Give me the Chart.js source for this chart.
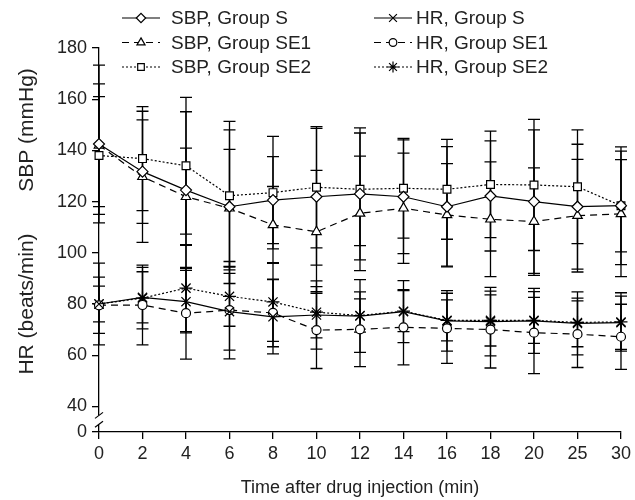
<!DOCTYPE html>
<html><head><meta charset="utf-8">
<script src="https://cdn.jsdelivr.net/npm/chart.js@4.4.1/dist/chart.umd.min.js"></script>
<style>html,body{margin:0;padding:0;background:#fff}#wrap{width:635px;height:500px;position:relative}</style>
</head><body><div id="wrap"><canvas id="c" width="635" height="500"></canvas></div>
<script>
const categories = ['0','2','4','6','8','10','12','14','16','18','20','25','30'];
const yTickValues = [30,40,60,80,100,120,140,160,180];
const yTickLabels = ['0','40','60','80','100','120','140','160','180'];

const sbpS   = [142.5,131.7,124.5,118.0,120.6,121.9,123.0,121.9,118.0,122.2,120.0,118.0,118.4];
const sbpSE1 = [142.0,129.7,121.9,117.4,110.9,108.2,115.4,117.4,114.8,113.1,112.2,114.5,115.2];
const sbpSE2 = [138.0,136.8,134.0,122.3,123.5,125.6,124.8,125.2,124.8,126.7,126.5,125.8,118.4];
const hrS    = [80.0,82.6,80.9,77.0,75.0,75.7,75.3,77.0,73.4,73.1,73.4,72.4,72.7];
const hrSE1  = [79.5,79.6,76.4,77.6,76.5,69.8,70.1,70.9,70.5,70.0,68.8,68.2,67.2];
const hrSE2  = [80.0,82.3,86.2,83.0,80.8,76.8,75.5,77.2,73.6,73.6,73.6,72.8,73.0];

const sbpS_sd   = [30.8,20.2,30.6,30.0,17.0,26.7,25.8,22.2,23.5,21.5,28.0,24.4,23.0];
const sbpSE1_sd = [24.0,25.6,19.0,23.0,15.0,24.0,22.4,21.5,20.0,22.4,21.0,22.0,24.5];
const sbpSE2_sd = [23.0,20.3,26.7,29.0,22.0,23.7,22.0,19.5,19.5,20.8,25.6,22.2,18.0];
const hrS_sd    = [16.0,10.0,12.2,15.0,14.5,13.3,14.2,12.1,11.8,13.4,12.7,12.3,10.4];
const hrSE1_sd  = [11.0,15.6,17.9,19.0,13.2,15.0,14.6,14.7,13.7,15.0,16.0,13.0,12.7];
const hrSE2_sd  = [7.0,12.0,17.0,11.7,15.4,10.0,6.5,8.0,8.0,10.0,9.0,9.5,11.4];

const seriesNames = ['SBP, Group S','SBP, Group SE1','SBP, Group SE2','HR, Group S','HR, Group SE1','HR, Group SE2'];

const FONT = '"Liberation Sans", Arial, sans-serif';
const TXT = '#222';

function ds(label, data, sd, style, radius, dash){
  return {label, data, sd, borderColor:'#000', borderWidth:1.2, borderDash:dash,
    pointStyle:style, pointRadius:radius, pointHoverRadius:radius,
    pointBackgroundColor:'#fff', pointBorderColor:'#000', pointBorderWidth:1.2,
    fill:false, tension:0};
}
const DASH=[7,5], DOT=[2,2];
const datasets = [
  ds(seriesNames[0], sbpS, sbpS_sd, 'rectRot', 5.5, []),
  ds(seriesNames[1], sbpSE1, sbpSE1_sd, 'triangle', 5.5, DASH),
  ds(seriesNames[2], sbpSE2, sbpSE2_sd, 'rect', 5.5, DOT),
  ds(seriesNames[3], hrS, hrS_sd, 'crossRot', 6.5, []),
  ds(seriesNames[4], hrSE1, hrSE1_sd, 'circle', 4.5, DASH),
  ds(seriesNames[5], hrSE2, hrSE2_sd, 'star', 6.5, DOT)
];

const errorBars = {
  id:'errorBars',
  beforeDatasetsDraw(chart){
    const ctx=chart.ctx, y=chart.scales.y;
    ctx.save(); ctx.strokeStyle='#000'; ctx.lineWidth=1.3; ctx.setLineDash([]);
    chart.data.datasets.forEach((d,di)=>{
      const meta=chart.getDatasetMeta(di);
      d.sd.forEach((s,i)=>{
        const x=meta.data[i].x, m=d.data[i];
        const yt=y.getPixelForValue(m+s), yb=y.getPixelForValue(m-s);
        ctx.beginPath();
        ctx.moveTo(x,yt); ctx.lineTo(x,yb);
        ctx.moveTo(x-6,yt); ctx.lineTo(x+6,yt);
        ctx.moveTo(x-6,yb); ctx.lineTo(x+6,yb);
        ctx.stroke();
      });
    });
    ctx.restore();
  }
};

const decor = {
  id:'decor',
  afterDraw(chart){
    const ctx=chart.ctx, y=chart.scales.y;
    const ax=chart.chartArea.left;
    ctx.save();
    // axis break
    const yA=y.getPixelForValue(36.5), yB=y.getPixelForValue(33.0);
    ctx.fillStyle='#fff'; ctx.fillRect(ax-2, yA, 4, yB-yA);
    ctx.strokeStyle='#000'; ctx.lineWidth=1.2;
    [yA,yB].forEach(yy=>{ctx.beginPath();ctx.moveTo(ax-4,yy+3);ctx.lineTo(ax+4,yy-3);ctx.stroke();});
    // titles
    ctx.fillStyle=TXT; ctx.textBaseline='middle'; ctx.textAlign='center';
    ctx.font='18px '+FONT;
    ctx.fillText('Time after drug injection (min)', (chart.chartArea.left+chart.chartArea.right)/2, 488);
    ctx.font='21px '+FONT;
    ctx.save(); ctx.translate(27,130); ctx.rotate(-Math.PI/2); ctx.fillText('SBP (mmHg)',0,0); ctx.restore();
    ctx.save(); ctx.translate(27,304); ctx.rotate(-Math.PI/2); ctx.fillText('HR (beats/min)',0,0); ctx.restore();
    // legend
    const cols=[{x0:122,x1:160,tx:171},{x0:374,x1:412,tx:416}];
    const rows=[18,42.5,67];
    chart.data.datasets.forEach((d,i)=>{
      const c=cols[Math.floor(i/3)], r=rows[i%3];
      ctx.save();
      ctx.strokeStyle='#000'; ctx.lineWidth=1.2; ctx.setLineDash(d.borderDash);
      ctx.beginPath(); ctx.moveTo(c.x0,r); ctx.lineTo(c.x1,r); ctx.stroke();
      ctx.setLineDash([]);
      ctx.fillStyle='#fff';
      Chart.helpers.drawPoint(ctx,{pointStyle:d.pointStyle,radius:d.pointRadius*0.85,borderWidth:1.2,rotation:0},(c.x0+c.x1)/2,r);
      ctx.restore();
      ctx.fillStyle=TXT; ctx.textAlign='left'; ctx.textBaseline='middle'; ctx.font='19px '+FONT;
      ctx.fillText(d.label,c.tx,r+1);
    });
    ctx.restore();
  }
};

new Chart(document.getElementById('c'),{
  type:'line',
  data:{labels:categories, datasets},
  plugins:[errorBars, decor],
  options:{
    responsive:false, animation:false, devicePixelRatio:1,
    layout:{padding:{top:48,right:12,left:0,bottom:0}},
    plugins:{legend:{display:false}, tooltip:{enabled:false}},
    scales:{
      x:{type:'category', offset:false,
        grid:{offset:false, drawOnChartArea:false, drawTicks:true, tickLength:7, color:'#000', lineWidth:1.3},
        border:{display:true,color:'#000',width:1.3},
        ticks:{color:TXT, font:{family:FONT,size:18}, padding:4, maxRotation:0, autoSkip:false},
        afterFit(s){s.height=68;}
      },
      y:{type:'linear', min:30, max:180,
        grid:{drawOnChartArea:false, drawTicks:true, tickLength:7, color:'#000', lineWidth:1.3},
        border:{display:true,color:'#000',width:1.3},
        afterBuildTicks(s){s.ticks=yTickValues.map(v=>({value:v}));},
        ticks:{color:TXT, font:{family:FONT,size:18}, padding:5,
          callback:(v)=>{const k=yTickValues.indexOf(v);return k>=0?yTickLabels[k]:'';}},
        afterFit(s){s.width=99;}
      }
    }
  }
});
</script></body></html>
